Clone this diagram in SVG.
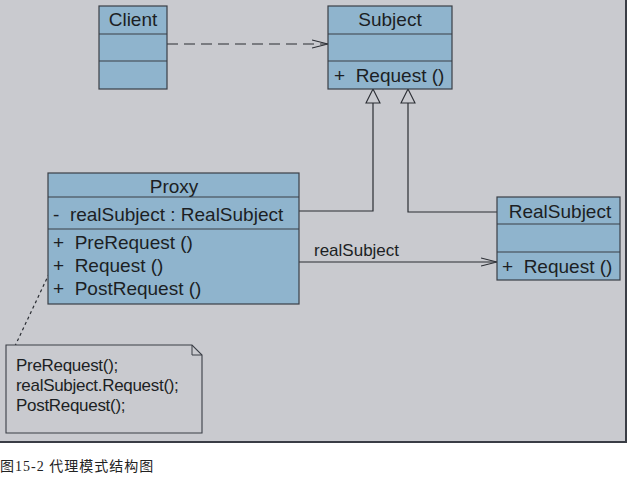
<svg xmlns="http://www.w3.org/2000/svg" width="628" height="481" viewBox="0 0 628 481">
  <style>
    .cls { fill: #8fb4cd; stroke: #3a3f47; stroke-width: 1.2; }
    .sep { stroke: #3a3f47; stroke-width: 1.2; }
    .t { font-family: "Liberation Sans", Arial, sans-serif; font-size: 19px; fill: #1c1f24; white-space: pre; }
    .note { font-family: "Liberation Sans", Arial, sans-serif; font-size: 17px; letter-spacing: -0.3px; fill: #1c1f24; }
    .edge { fill: none; stroke: #2a2d33; stroke-width: 1.2; }
  </style>
  <defs>
    <marker id="open" viewBox="0 0 16 10" refX="16" refY="5" markerWidth="16" markerHeight="10" markerUnits="userSpaceOnUse" orient="auto">
      <path d="M0,1 L16,5 L0,9" fill="none" stroke="#2a2d33" stroke-width="1.1"/>
    </marker>
    <marker id="gen" viewBox="0 0 16 16" refX="15" refY="8" markerWidth="16" markerHeight="16" markerUnits="userSpaceOnUse" orient="auto">
      <path d="M15,8 L1,1 L1,15 Z" fill="#c9cacf" stroke="#2a2d33" stroke-width="1.1"/>
    </marker>
  </defs>

  <!-- backdrop panel -->
  <rect x="0" y="0" width="627" height="443" fill="#3a3d45"/>
  <rect x="0" y="0" width="625" height="441" fill="#c9cacf"/>

  <g id="connectors">
    <path class="edge" d="M167,44 L328,44" stroke-dasharray="11,6" marker-end="url(#open)"/>
    <path class="edge" d="M299,211 L373,211 L373,89" marker-end="url(#gen)"/>
    <path class="edge" d="M497,212 L408,212 L408,89" marker-end="url(#gen)"/>
    <path class="edge" d="M299,262 L497,262" marker-end="url(#open)"/>
    <text class="t" x="314" y="256" style="font-size:17px">realSubject</text>
    <path class="edge" d="M57,257 L15,346" stroke-dasharray="3,3" stroke-width="1"/>
  </g>

  <g id="client">
    <rect class="cls" x="99" y="6" width="68" height="83"/>
    <line class="sep" x1="99" y1="34" x2="167" y2="34"/>
    <line class="sep" x1="99" y1="61" x2="167" y2="61"/>
    <text class="t" x="133" y="26" text-anchor="middle">Client</text>
  </g>

  <g id="subject">
    <rect class="cls" x="328" y="6" width="124" height="83"/>
    <line class="sep" x1="328" y1="34" x2="452" y2="34"/>
    <line class="sep" x1="328" y1="61" x2="452" y2="61"/>
    <text class="t" x="390" y="26" text-anchor="middle">Subject</text>
    <text class="t" x="334" y="82">+  Request ()</text>
  </g>

  <g id="proxy">
    <rect class="cls" x="48" y="173" width="251" height="131"/>
    <line class="sep" x1="48" y1="197" x2="299" y2="197"/>
    <line class="sep" x1="48" y1="229" x2="299" y2="229"/>
    <text class="t" x="174" y="193" text-anchor="middle">Proxy</text>
    <text class="t" x="53" y="221">-  realSubject : RealSubject</text>
    <text class="t" x="53" y="249">+  PreRequest ()</text>
    <text class="t" x="53" y="272">+  Request ()</text>
    <text class="t" x="53" y="295">+  PostRequest ()</text>
  </g>

  <g id="realsubject">
    <rect class="cls" x="497" y="197" width="123" height="83"/>
    <line class="sep" x1="497" y1="224" x2="620" y2="224"/>
    <line class="sep" x1="497" y1="252" x2="620" y2="252"/>
    <text class="t" x="560" y="218" text-anchor="middle">RealSubject</text>
    <text class="t" x="502" y="273">+  Request ()</text>
  </g>

  <g id="note">
    <path d="M6,345 L192,345 L202,355 L202,433 L6,433 Z" fill="#c9cacf" stroke="#3a3f47" stroke-width="1.1"/>
    <path d="M192,345 L192,355 L202,355" fill="none" stroke="#3a3f47" stroke-width="1"/>
    <text class="note" x="16" y="371">PreRequest();</text>
    <text class="note" x="16" y="391">realSubject.Request();</text>
    <text class="note" x="16" y="411">PostRequest();</text>
  </g>

  <text x="0" y="471" font-family="'Liberation Serif', 'Noto Sans CJK SC', serif" font-size="14" fill="#222" letter-spacing="1">图15-2 代理模式结构图</text>
</svg>
